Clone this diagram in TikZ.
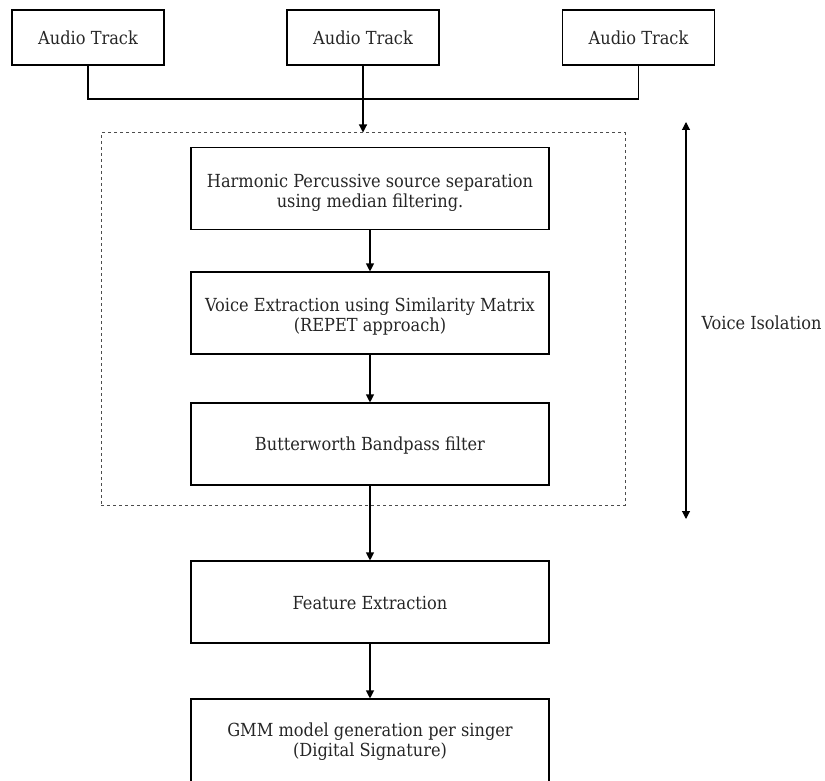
\documentclass[tikz,border=0pt]{standalone}
\usepackage{fontspec}
\setmainfont{DejaVu Serif Condensed}
\usetikzlibrary{arrows.meta}
\begin{document}
\begin{tikzpicture}[x=1pt,y=-1pt,
  txt/.style={font=\fontsize{18}{20}\selectfont, text=black!85},
  abox/.style={draw, line width=1.1pt, minimum width=152pt, minimum height=55pt, inner sep=0pt, txt},
  pbox/.style={draw, line width=1.1pt, minimum width=358pt, minimum height=82pt, inner sep=0pt, align=center, txt},
  inlab/.style={txt, align=center, inner sep=0pt, yshift=#1},
  arr/.style={-{Triangle[length=8pt,width=8pt]}, line width=1.1pt},
  dbl/.style={{Triangle[length=8pt,width=8pt]}-{Triangle[length=8pt,width=8pt]}, line width=1.1pt},
  grp/.style={draw=black!70, line width=1pt, dash pattern=on 3pt off 3pt, minimum width=524pt, minimum height=372pt, inner sep=0pt}
]
\useasboundingbox (0,0) rectangle (825,781);
\node[abox] (a1) at (88,37.5) {Audio Track};
\node[abox] (a2) at (363,37.5) {Audio Track};
\node[abox] (a3) at (638.5,37.5) {Audio Track};
\node[grp] (grp) at (363,319) {};
\node[pbox, label={[inlab=-4pt]center:{Harmonic Percussive source separation\\using median filtering.}}] (h) at (370,188.5) {};
\node[pbox, label={[inlab=-4pt]center:{Voice Extraction using Similarity Matrix\\(REPET approach)}}] (v) at (370,313) {};
\node[pbox, label={[inlab=-2pt]center:{Butterworth Bandpass filter}}] (b) at (370,444) {};
\node[pbox, label={[inlab=-1pt]center:{Feature Extraction}}] (f) at (370,602) {};
\node[pbox, minimum height=86pt] (g) at (370,742) {GMM model generation per singer\\(Digital Signature)};
\coordinate (top) at (686,122);
\coordinate (bot) at (686,519);
\coordinate (join) at (88,99);
\node[txt, anchor=west] (vi) at (698,323) {Voice Isolation};
\draw[line width=1.1pt] (a1.south) -- (join) -| (a3.south);
\draw[arr] (a2.south) -- (grp.north);
\draw[arr] (h) -- (v);
\draw[arr] (v) -- (b);
\draw[arr] (b) -- (f);
\draw[arr] (f) -- (g);
\draw[dbl] (top) -- (bot);
\end{tikzpicture}
\end{document}
